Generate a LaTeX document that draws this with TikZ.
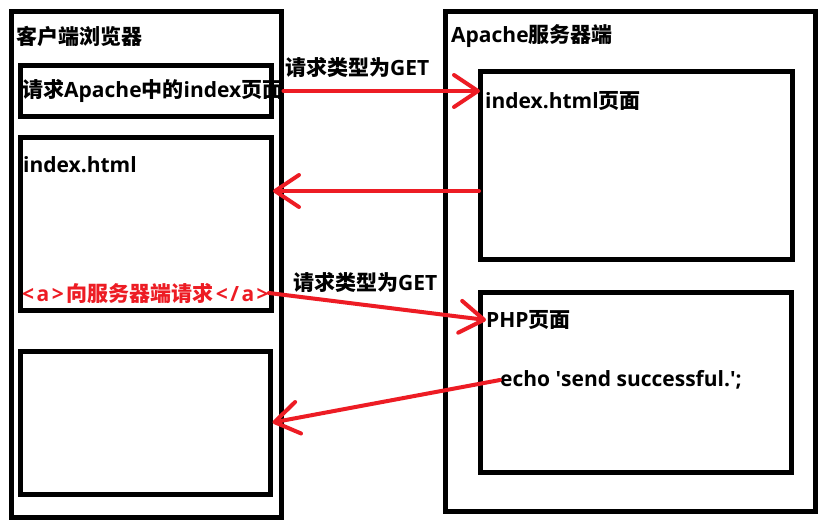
\documentclass[tikz,border=0pt]{standalone}
\usepackage{fontspec}
\setmainfont{Open Sans}
\newfontfamily\cjk{Noto Sans CJK SC Bold}
\usetikzlibrary{arrows.meta}
\definecolor{pred}{HTML}{ED1C24}
\newcommand\gapk{\kern2.5pt}
\tikzset{
  box/.style={draw=black, line width=5pt, rectangle, inner sep=0pt},
  txt/.style={anchor=west, inner sep=0pt, font=\fontsize{21}{23}\selectfont\bfseries},
  redtxt/.style={txt, text=pred},
  conn/.style={draw=pred, line width=4pt, line cap=round,
    -{Straight Barb[length=24pt,width=32pt,line width=4pt,round]}},
}
\begin{document}
\begin{tikzpicture}[x=1pt,y=-1pt]
\fill[white] (0,0) rectangle (825,527);
\useasboundingbox (0,0) rectangle (825,527);
% client side
\node[box, minimum width=270pt, minimum height=505pt] (client) at (146,264.5) {};
\node[box, minimum width=251pt, minimum height=50pt] (b1) at (145.5,91) {};
\node[box, minimum width=251pt, minimum height=173pt] (b2) at (145.5,223.5) {};
\node[box, minimum width=250pt, minimum height=143pt] (b3) at (145,422.5) {};
% server side
\node[box, minimum width=370pt, minimum height=499pt] (server) at (630,261.5) {};
\node[box, minimum width=312pt, minimum height=187pt] (bA) at (636,165.5) {};
\node[box, minimum width=311pt, minimum height=180pt] (bB) at (635.5,382) {};
% texts
\node[txt] (tclient) at (16,36) {\cjk 客户端浏览器};
\node[txt] (t1) at (22,91) {{\cjk 请求}Apache{\cjk 中的}index{\cjk 页面}};
\node[txt] (t2) at (23,165) {index.html};
\node[redtxt] (tred) at (22,293) {<\gapk a\gapk >\gapk{\cjk 向服务器端请求}\gapk<\gapk/\gapk a\gapk >};
\node[txt] (tserver) at (451,36) {Apache{\cjk 服务器端}};
\node[txt] (tA) at (485,101) {index.html{\cjk 页面}};
\node[txt] (tB) at (486,320) {PHP{\cjk 页面}};
\node[txt] (techo) at (500,380) {echo \textquotesingle send successful.\textquotesingle;};
\node[txt] (l1) at (285,67) {{\cjk 请求类型为}GET};
\node[txt] (l2) at (293,282) {{\cjk 请求类型为}GET};
% connector end points
\coordinate (e1) at (480,91);
\coordinate (s2) at (479,191);
\coordinate (e2) at (273,191);
% connectors
\draw[conn] (t1.east) -- (e1);
\draw[conn] (s2) -- (e2);
\draw[conn] (tred.east) -- (tB.west);
\draw[conn] (techo.west) -- (b3.east);
\end{tikzpicture}
\end{document}
